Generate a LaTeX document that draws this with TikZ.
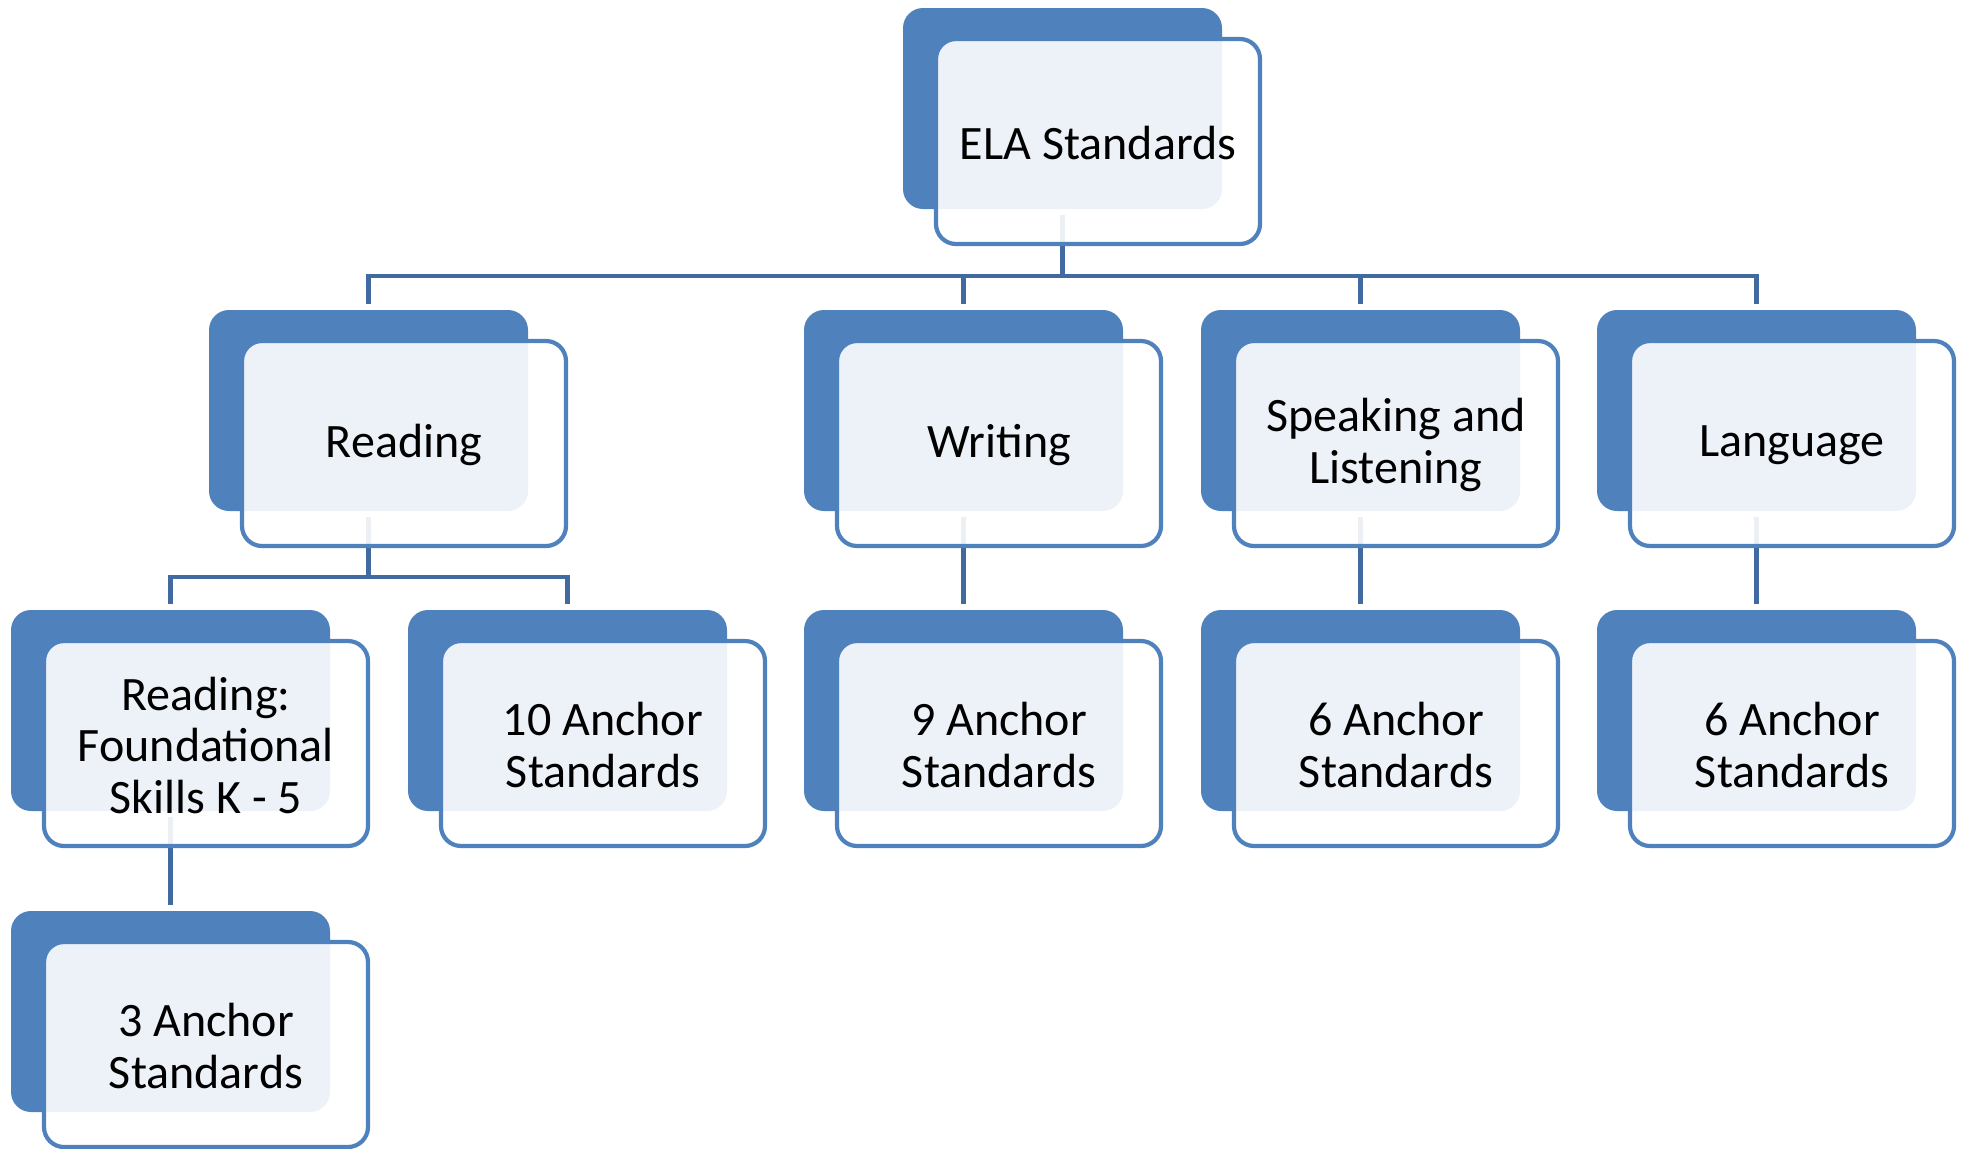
\documentclass[tikz,border=0pt]{standalone}
\usepackage{fontspec}
\setmainfont{Carlito}
\usetikzlibrary{backgrounds,calc}
\definecolor{accent}{RGB}{79,129,189}
\definecolor{linkblue}{RGB}{65,106,160}
\tikzset{
  backbox/.style={rectangle, rounded corners=10pt, fill=accent,
    minimum width=159.5pt, minimum height=100.5pt, inner sep=0pt, outer sep=0pt},
  frontbox/.style={rectangle, rounded corners=10pt, draw=accent, line width=2.1pt,
    fill=white, fill opacity=0.9, draw opacity=1,
    minimum width=162pt, minimum height=102.5pt, inner sep=0pt, outer sep=0pt},
  cardtext/.style={align=center, inner sep=0pt, font=\fontsize{24}{25.8}\selectfont},
  conn/.style={draw=linkblue, line width=2.3pt}
}
% a card: filled back panel plus a framed, translucent front panel with the label
% #1 name, #2 left edge, #3 top edge (px), #4 label
\newcommand\orgcard[4]{%
  \node[backbox] (#1-b) at ({#2+159.5},{#3+100.5}) {};
  \node[frontbox] (#1-f) at ({#2+195},{#3+133.5}) {};
  \node[cardtext] (#1) at ([yshift=-0.8pt]#1-f.center) {#4};
}
\begin{document}
\begin{tikzpicture}[x=0.5pt,y=-0.5pt]
\useasboundingbox (0,0) rectangle (1967,1148);

% level 1
\orgcard{ela}{903}{8}{ELA Standards}
% level 2
\orgcard{read}{209}{310}{Reading}
\orgcard{writ}{804}{310}{Writing}
\orgcard{spk}{1201}{310}{Speaking and\\Listening}
\orgcard{lang}{1597}{310}{Language}
% level 3
\orgcard{found}{11}{610}{Reading:\\Foundational\\Skills K - 5}
\orgcard{rten}{408}{610}{10 Anchor\\Standards}
\orgcard{wnine}{804}{610}{9 Anchor\\Standards}
\orgcard{ssix}{1201}{610}{6 Anchor\\Standards}
\orgcard{lsix}{1597}{610}{6 Anchor\\Standards}
% level 4
\orgcard{fthree}{11}{911}{3 Anchor\\Standards}

\coordinate (busA) at (0,276);
\coordinate (busB) at (0,577);

\begin{scope}[on background layer]
  % ELA Standards to the four strands
  \foreach \c in {read,writ,spk,lang}{
    \draw[conn] ([yshift=-3pt]ela-b.south) |- (busA -| \c-b.north) -- ([yshift=3pt]\c-b.north);
  }
  % Reading to its two branches
  \foreach \c in {found,rten}{
    \draw[conn] ([yshift=-3pt]read-b.south) |- (busB -| \c-b.north) -- ([yshift=3pt]\c-b.north);
  }
  % single children
  \draw[conn] ([yshift=-3pt]writ-b.south) -- ([yshift=3pt]wnine-b.north);
  \draw[conn] ([yshift=-3pt]spk-b.south) -- ([yshift=3pt]ssix-b.north);
  \draw[conn] ([yshift=-3pt]lang-b.south) -- ([yshift=3pt]lsix-b.north);
  \draw[conn] ([yshift=-3pt]found-b.south) -- ([yshift=3pt]fthree-b.north);
\end{scope}
\end{tikzpicture}
\end{document}
